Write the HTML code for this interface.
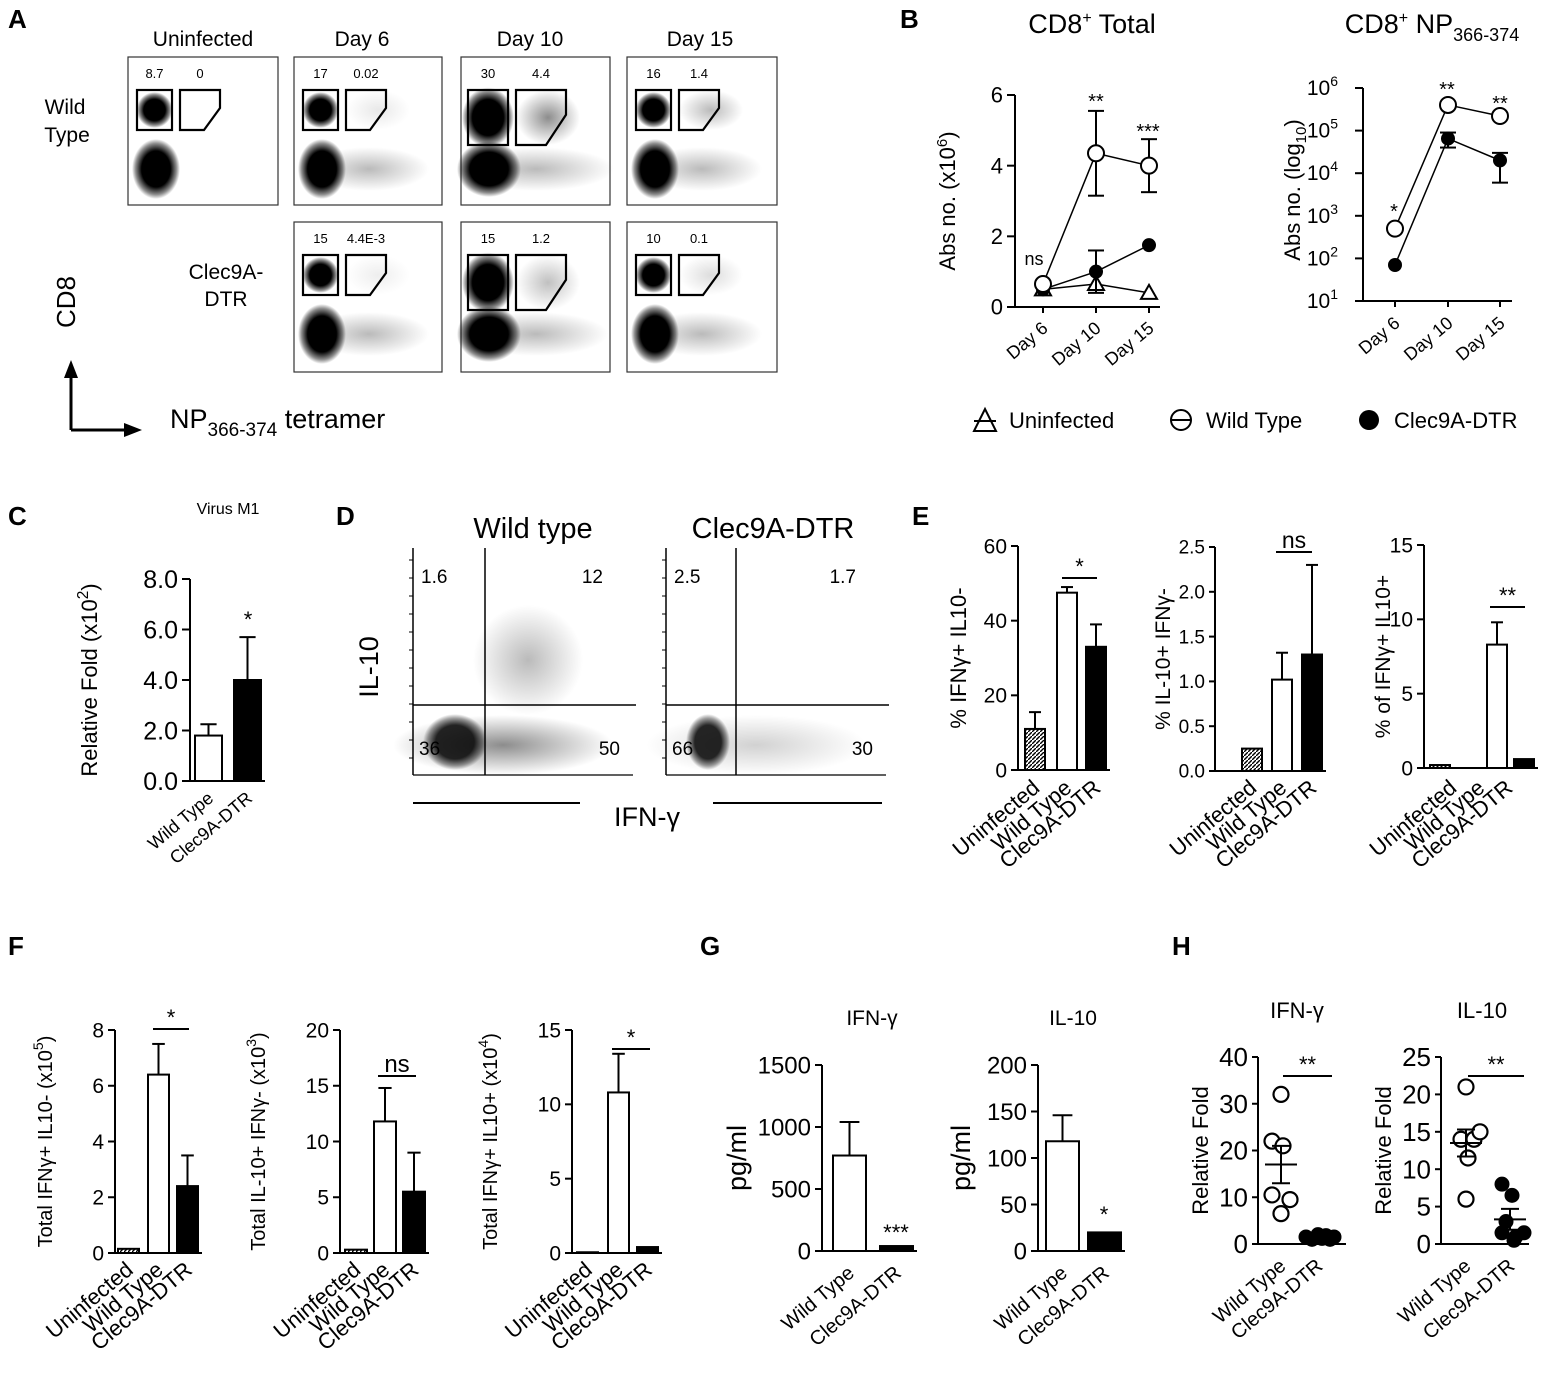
<!DOCTYPE html>
<html><head><meta charset="utf-8">
<style>
html,body{margin:0;padding:0;background:#fff;}
svg{display:block;font-family:"Liberation Sans",Arial,sans-serif;}
</style></head>
<body>
<svg id="fig" width="1547" height="1379" viewBox="0 0 1547 1379" xmlns="http://www.w3.org/2000/svg">
<defs>
<radialGradient id="blob"><stop offset="0" stop-color="#000"/><stop offset="0.6" stop-color="#000"/><stop offset="0.85" stop-color="#000" stop-opacity="0.45"/><stop offset="1" stop-color="#000" stop-opacity="0"/></radialGradient>
<radialGradient id="haze"><stop offset="0" stop-color="#000" stop-opacity="0.45"/><stop offset="1" stop-color="#000" stop-opacity="0"/></radialGradient>
<pattern id="hatch" width="4" height="4" patternUnits="userSpaceOnUse"><rect width="4" height="4" fill="#fff"/><path d="M0 4L4 0" stroke="#000" stroke-width="1.4"/></pattern>
</defs>
<g id="root"></g>
</svg>
<script>
// ---------- data ----------
const bDays = ["Day 6","Day 10","Day 15"];
const bTotalUninf = [0.5,0.65,0.4];
const bTotalWT = [0.65,4.35,4.0];
const bTotalWTerr = [0.1,1.2,0.75];
const bTotalClec = [0.5,1.0,1.75];
const bTotalClecErr = [0.05,0.6,0.1];
const bNpWT = [500,400000,220000];
const bNpClec = [70,65000,20000];
const bNpClecErrHi = [70,90000,30000];
const bNpClecErrLo = [70,40000,6000];
const threeCats = ["Uninfected","Wild Type","Clec9A-DTR"];
const twoCats = ["Wild Type","Clec9A-DTR"];
const cVals = [1.8,4.0];
const cErr = [0.45,1.7];
const e1Vals=[11,47.5,33], e1Err=[4.5,1.5,6];
const e2Vals=[0.25,1.02,1.3], e2Err=[0.04,0.3,1.0];
const e3Vals=[0.2,8.3,0.6], e3Err=[0.05,1.5,0.1];
const f1Vals=[0.15,6.4,2.4], f1Err=[0.03,1.1,1.1];
const f2Vals=[0.3,11.8,5.5], f2Err=[0.1,3.0,3.5];
const f3Vals=[0.05,10.8,0.4], f3Err=[0.02,2.6,0.1];
const g1Vals=[770,40], g1Err=[270,8];
const g2Vals=[118,20], g2Err=[28,3];
const h1WT=[22,32,21,10.5,9.5,6.5], h1Clec=[1.5,1,2,1.2,1.8,1,1.5];
const h1Mean=[17,1.4], h1Sem=[4,0.3];
const h2WT=[14,21,14,15,11.5,6], h2Clec=[8,6.5,3,1.5,1,0.5,1.5];
const h2Mean=[13.5,3.3], h2Sem=[1.8,1.4];

const NS="http://www.w3.org/2000/svg";
const root=document.getElementById('root');
function el(tag,attrs,parent,text){const e=document.createElementNS(NS,tag);for(const k in attrs)e.setAttribute(k,attrs[k]);if(text!==undefined)e.textContent=text;(parent||root).appendChild(e);return e;}
function grp(name){const g=el('g',{});


return g;}
function line(g,x1,y1,x2,y2,w){return el('line',{x1,y1,x2,y2,stroke:'#000','stroke-width':w||2},g);}
function txt(g,x,y,s,size,anchor,extra){const t=el('text',Object.assign({x,y,'font-size':size,'text-anchor':anchor||'middle',fill:'#000'},extra||{}),g,s);return t;}

// panel letters
const letters=[["A",8,28],["B",900,28],["C",8,525],["D",336,525],["E",912,525],["F",8,955],["G",700,955],["H",1172,955]];
letters.forEach(l=>{const t=txt(root,l[1],l[2],l[0],26,'start',{'font-weight':'bold'});

});

// ---------- Panel A: flow plots ----------
const gA=grp('panel-a-flow-plots');
const colHeads=[["Uninfected",203],["Day 6",362],["Day 10",530],["Day 15",700]];
colHeads.forEach(c=>txt(gA,c[1],46,c[0],21));
txt(gA,65,114,"Wild",21);txt(gA,67,142,"Type",21);
txt(gA,226,279,"Clec9A-",21);txt(gA,226,306,"DTR",21);
const plots=[
 {x:128,y:57,w:150,h:148,a:"8.7",b:"0",pos:0,neg:0},
 {x:294,y:57,w:148,h:148,a:"17",b:"0.02",pos:0.2,neg:1},
 {x:461,y:57,w:149,h:148,a:"30",b:"4.4",pos:1,neg:1.3,big:1},
 {x:627,y:57,w:150,h:148,a:"16",b:"1.4",pos:0.6,neg:1},
 {x:294,y:222,w:148,h:150,a:"15",b:"4.4E-3",pos:0.15,neg:1},
 {x:461,y:222,w:149,h:150,a:"15",b:"1.2",pos:0.55,neg:1.2,big:1},
 {x:627,y:222,w:150,h:150,a:"10",b:"0.1",pos:0.3,neg:1}
];
plots.forEach((p,i)=>{
 const g=el('g',{},gA);
 
 
 el('rect',{x:p.x,y:p.y,width:p.w,height:p.h,fill:'#fff',stroke:'#333','stroke-width':1.2},g);
 const bx=p.big?p.x+7:p.x+9, bw=p.big?40:35, bh=p.big?55:40, by=p.y+33;
 if(p.neg)el('ellipse',{cx:p.x+75,cy:p.y+112,rx:60*p.neg,ry:22,fill:'url(#haze)',opacity:0.6},g);
 if(p.pos)el('ellipse',{cx:bx+bw+40,cy:by+bh/2,rx:32,ry:bh/2,fill:'url(#haze)',opacity:p.pos},g);
 el('ellipse',{cx:bx+bw/2,cy:by+bh/2,rx:p.big?26:18,ry:p.big?30:18,fill:'url(#blob)'},g);
 el('ellipse',{cx:p.x+28,cy:p.y+112,rx:p.big?32:24,ry:p.big?28:30,fill:'url(#blob)'},g);
 el('rect',{x:bx,y:by,width:bw,height:bh,fill:'none',stroke:'#000','stroke-width':2.2},g);
 const gx=bx+bw+8, gw=p.big?50:40;
 el('path',{d:`M${gx} ${by} H${gx+gw} V${by+bh*0.45} L${gx+gw*0.6} ${by+bh} H${gx} Z`,fill:'none',stroke:'#000','stroke-width':2.2},g);
 txt(g,bx+bw/2,p.y+21,p.a,13);
 txt(g,gx+gw/2,p.y+21,p.b,13);
});
line(gA,71,430,71,370,3);el('path',{d:'M64 378 L71 360 L78 378 Z',fill:'#000'},gA);
line(gA,71,430,128,430,3);el('path',{d:'M124 423 L142 430 L124 437 Z',fill:'#000'},gA);
txt(gA,75,302,"CD8",26,'middle',{transform:'rotate(-90 75 302)'});
const npl=txt(gA,170,428,"NP",27,'start');
el('tspan',{'font-size':19,dy:8},npl,"366-374");el('tspan',{'font-size':27,dy:-8},npl," tetramer");

// ---------- generic helpers ----------
function yTicks(g,ax,y0,y1,vmax,ticks,labels,size,tickLen){
 line(g,ax,y0,ax,y1,2);
 ticks.forEach((v,i)=>{const y=y0-(y0-y1)*v/vmax;line(g,ax-(tickLen||7),y,ax,y,2);txt(g,ax-(tickLen||7)-4,y+size*0.35,labels[i],size,'end');});
}
function errBar(g,x,yTop,yEnd,cap){line(g,x,yTop,x,yEnd,2);line(g,x-cap,yEnd,x+cap,yEnd,2);}
function catLabels(g,xs,y,cats,size){cats.forEach((c,i)=>txt(g,xs[i]+6,y,c,size,'end',{transform:`rotate(-40 ${xs[i]+6} ${y})`}));}
function sig(g,x1,x2,y,s,size){line(g,x1,y,x2,y,2);txt(g,(x1+x2)/2,y-4,s,size||22);}

function barChart(name,o){
 const g=grp(name);
 const sy=v=>o.y0-(o.y0-o.y1)*v/o.vmax;
 yTicks(g,o.ax,o.y0,o.y1,o.vmax,o.ticks,o.tickLabels,o.tsize,o.tlen);
 line(g,o.ax,o.y0,o.bx[o.bx.length-1]+o.bw+4,o.y0,2);
 o.vals.forEach((v,i)=>{
  const fill=o.fills[i];
  const r=el('rect',{x:o.bx[i],y:sy(v),width:o.bw,height:o.y0-sy(v),fill:fill,stroke:'#000','stroke-width':2},g);
  
  
  if(o.err[i]>o.vmax*0.02)errBar(g,o.bx[i]+o.bw/2,sy(v),sy(v+o.err[i]),o.bw*0.3);
 });
 catLabels(g,o.lx||o.bx.map(x=>x+o.bw/2),o.labY,o.cats,o.lsize);
 const yl=txt(g,o.ylx,(o.y0+o.y1)/2,"",o.ysize,'middle',{transform:`rotate(-90 ${o.ylx} ${(o.y0+o.y1)/2})`});
 o.ylabel(yl);
 return {g,sy};
}
function simpleLabel(s){return t=>{t.textContent=s;};}
function supLabel(a,sup,b){return t=>{el('tspan',{},t,a);el('tspan',{dy:-9,'font-size':'70%'},t,sup);el('tspan',{dy:9},t,b);};}

// ---------- Panel B ----------
(function(){
 const g=grp('panel-b-cd8-total');
 const xs=[1043,1096,1149], y0=307,y1=95;
 const sy=v=>y0-(y0-y1)*v/6;
 const t=txt(g,1092,33,"CD8",27);el('tspan',{dy:-10,'font-size':16},t,"+");el('tspan',{dy:10},t," Total");
 yTicks(g,1015,y0,y1,6,[0,2,4,6],["0","2","4","6"],22,8);
 line(g,1015,y0,1160,y0,2);
 xs.forEach(x=>line(g,x,y0,x,y0+6,2));
 catLabels(g,xs,330,bDays,18);
 const yl=txt(g,955,201,"Abs no. (x10",22,'middle',{transform:'rotate(-90 955 201)'});
 el('tspan',{dy:-8,'font-size':15},yl,"6");el('tspan',{dy:8},yl,")");
 function series(vals,err,marker,name){
  const s=el('g',{},g);
  
  
  el('polyline',{points:vals.map((v,i)=>xs[i]+','+sy(v)).join(' '),fill:'none',stroke:'#000','stroke-width':1.5},s);
  vals.forEach((v,i)=>{
   if(err&&err[i]>0.15){errBar(s,xs[i],sy(v-err[i]),sy(v+err[i]),8);line(s,xs[i]-8,sy(v-err[i]),xs[i]+8,sy(v-err[i]),2);}
   marker(s,xs[i],sy(v));
  });
 }
 const tri=(s,x,y)=>el('path',{d:`M${x} ${y-8} L${x+8} ${y+6} L${x-8} ${y+6} Z`,fill:'#fff',stroke:'#000','stroke-width':2},s);
 const oc=(s,x,y)=>el('circle',{cx:x,cy:y,r:8,fill:'#fff',stroke:'#000','stroke-width':2},s);
 const fc=(s,x,y)=>el('circle',{cx:x,cy:y,r:7,fill:'#000'},s);
 series(bTotalUninf,null,tri,'series-uninfected');
 series(bTotalClec,bTotalClecErr,fc,'series-clec9a-dtr');
 series(bTotalWT,bTotalWTerr,oc,'series-wild-type');
 txt(g,1034,265,"ns",18);txt(g,1096,108,"**",20);txt(g,1148,138,"***",20);

 const g2=grp('panel-b-cd8-np366');
 const xs2=[1395,1448,1500], Y0=301,Y1=88;
 const ly=v=>Y0-(Y0-Y1)*(Math.log10(v)-1)/5;
 const t2=txt(g2,1432,33,"CD8",27);el('tspan',{dy:-10,'font-size':16},t2,"+");el('tspan',{dy:10},t2," NP");el('tspan',{dy:8,'font-size':18},t2,"366-374");
 line(g2,1363,Y0,1363,Y1,2);line(g2,1363,Y0,1512,Y0,2);
 [1,2,3,4,5,6].forEach(e=>{const y=ly(Math.pow(10,e));line(g2,1355,y,1363,y,2);const tt=txt(g2,1338,y+7,"10",21,'end');el('tspan',{dy:-9,'font-size':14},tt,String(e));});
 xs2.forEach(x=>line(g2,x,Y0,x,Y0+6,2));
 catLabels(g2,xs2,325,bDays,18);
 const yl2=txt(g2,1300,190,"Abs no. (log",22,'middle',{transform:'rotate(-90 1300 190)'});
 el('tspan',{dy:6,'font-size':15},yl2,"10");el('tspan',{dy:-6},yl2,")");
 el('polyline',{points:bNpClec.map((v,i)=>xs2[i]+','+ly(v)).join(' '),fill:'none',stroke:'#000','stroke-width':1.5},g2);
 bNpClec.forEach((v,i)=>{if(bNpClecErrHi[i]>v){errBar(g2,xs2[i],ly(v),ly(bNpClecErrHi[i]),8);}if(bNpClecErrLo[i]<v){errBar(g2,xs2[i],ly(v),ly(bNpClecErrLo[i]),8);}el('circle',{cx:xs2[i],cy:ly(v),r:7,fill:'#000'},g2);});
 el('polyline',{points:bNpWT.map((v,i)=>xs2[i]+','+ly(v)).join(' '),fill:'none',stroke:'#000','stroke-width':1.5},g2);
 bNpWT.forEach((v,i)=>el('circle',{cx:xs2[i],cy:ly(v),r:8,fill:'#fff',stroke:'#000','stroke-width':2},g2));
 txt(g2,1394,218,"*",20);txt(g2,1447,96,"**",20);txt(g2,1500,110,"**",20);

 const lg=grp('legend-b');
 el('path',{d:'M985 409 L996 431 L974 431 Z',fill:'#fff',stroke:'#000','stroke-width':2},lg);line(lg,974,421,996,421,2);
 txt(lg,1009,428,"Uninfected",22,'start');
 el('circle',{cx:1181,cy:420,r:10,fill:'#fff',stroke:'#000','stroke-width':2},lg);line(lg,1171,420,1191,420,2);
 txt(lg,1206,428,"Wild Type",22,'start');
 el('circle',{cx:1369,cy:420,r:10,fill:'#000'},lg);
 txt(lg,1394,428,"Clec9A-DTR",22,'start');
})();

// ---------- Panel C ----------
(function(){
 const r=barChart('panel-c-virus-m1',{ax:190,y0:781,y1:579,vmax:8,ticks:[0,2,4,6,8],tickLabels:["0.0","2.0","4.0","6.0","8.0"],tsize:25,tlen:8,
  bx:[195,234],bw:27,vals:cVals,err:cErr,fills:['#fff','#000'],cats:twoCats,labY:800,lsize:18,ylx:97,ysize:22,
  ylabel:supLabel("Relative Fold (x10","2",")")});
 txt(r.g,228,514,"Virus M1",16);txt(r.g,248,627,"*",22);
})();

// ---------- Panel D ----------
(function(){
 const g=grp('panel-d-flow-quadrants');
 txt(g,533,538,"Wild type",29);txt(g,773,538,"Clec9A-DTR",29);
 const ps=[{x:413,qx:485,a:"1.6",b:"12",c:"36",d:"50",dense:1},{x:666,qx:736,a:"2.5",b:"1.7",c:"66",d:"30",dense:0.4}];
 ps.forEach((p,i)=>{
  const s=el('g',{},g);
  
  
  line(s,p.x,548,p.x,775,1.5);line(s,p.x,775,p.x+220,775,1.2);
  for(let k=0;k<12;k++){const y=560+k*18;line(s,p.x-4,y,p.x,y,1);}
  el('ellipse',{cx:p.x+90,cy:745,rx:110,ry:30,fill:'url(#haze)',opacity:p.dense},s);
  if(p.dense>0.5)el('ellipse',{cx:p.x+115,cy:660,rx:55,ry:55,fill:'url(#haze)',opacity:0.6},s);
  el('ellipse',{cx:p.x+42,cy:742,rx:p.dense>0.5?32:22,ry:28,fill:'url(#blob)',opacity:0.85},s);
  line(s,p.qx,548,p.qx,775,1.5);line(s,p.x,705,p.x+223,705,1.5);
  txt(s,p.x+8,583,p.a,19,'start');txt(s,p.x+190,583,p.b,19,'end');
  txt(s,p.x+6,755,p.c,19,'start');txt(s,p.x+207,755,p.d,19,'end');
 });
 line(g,413,803,580,803,2);line(g,713,803,882,803,2);
 txt(g,647,826,"IFN-γ",27);
 txt(g,378,667,"IL-10",27,'middle',{transform:'rotate(-90 378 667)'});
})();

// ---------- Panel E ----------
(function(){
 const fills=['url(#hatch)','#fff','#000'];
 const a=barChart('panel-e-ifng-il10neg',{ax:1018,y0:770,y1:546,vmax:60,ticks:[0,20,40,60],tickLabels:["0","20","40","60"],tsize:21,tlen:7,
  bx:[1025,1057,1086],bw:20,vals:e1Vals,err:e1Err,fills,cats:threeCats,labY:790,lsize:22,ylx:966,ysize:22,ylabel:simpleLabel("% IFNγ+ IL10-")});
 sig(a.g,1062,1097,578,"*");
 const b=barChart('panel-e-il10-ifngneg',{ax:1215,y0:771,y1:547,vmax:2.5,ticks:[0,0.5,1,1.5,2,2.5],tickLabels:["0.0","0.5","1.0","1.5","2.0","2.5"],tsize:19,tlen:6,
  bx:[1242,1272,1302],bw:20,vals:e2Vals,err:e2Err,fills,cats:threeCats,labY:790,lsize:22,ylx:1170,ysize:21,ylabel:simpleLabel("% IL-10+ IFNγ-")});
 sig(b.g,1276,1312,552,"ns",23);
 const c=barChart('panel-e-ifng-il10pos',{ax:1424,y0:768,y1:545,vmax:15,ticks:[0,5,10,15],tickLabels:["0","5","10","15"],tsize:21,tlen:7,
  bx:[1430,1487,1514],bw:20,vals:e3Vals,err:e3Err,fills,cats:threeCats,labY:790,lsize:22,ylx:1390,ysize:21,ylabel:simpleLabel("% of IFNγ+ IL10+"),
  lx:[1452,1480,1508]});
 sig(c.g,1490,1525,607,"**");
})();

// ---------- Panel F ----------
(function(){
 const fills=['url(#hatch)','#fff','#000'];
 const a=barChart('panel-f-total-ifng',{ax:115,y0:1253,y1:1030,vmax:8,ticks:[0,2,4,6,8],tickLabels:["0","2","4","6","8"],tsize:21,tlen:7,
  bx:[118,148,177],bw:21,vals:f1Vals,err:f1Err,fills,cats:threeCats,labY:1272,lsize:22,ylx:52,ysize:20,ylabel:supLabel("Total IFNγ+ IL10- (x10","5",")")});
 sig(a.g,153,189,1029,"*");
 const b=barChart('panel-f-total-il10',{ax:340,y0:1253,y1:1030,vmax:20,ticks:[0,5,10,15,20],tickLabels:["0","5","10","15","20"],tsize:21,tlen:7,
  bx:[345,374,403],bw:22,vals:f2Vals,err:f2Err,fills,cats:threeCats,labY:1272,lsize:22,ylx:265,ysize:20,ylabel:supLabel("Total IL-10+ IFNγ- (x10","3",")")});
 sig(b.g,378,416,1076,"ns",24);
 const c=barChart('panel-f-total-double',{ax:572,y0:1253,y1:1030,vmax:15,ticks:[0,5,10,15],tickLabels:["0","5","10","15"],tsize:21,tlen:7,
  bx:[577,608,637],bw:21,vals:f3Vals,err:f3Err,fills,cats:threeCats,labY:1272,lsize:22,ylx:497,ysize:20,ylabel:supLabel("Total IFNγ+ IL10+ (x10","4",")")});
 sig(c.g,612,650,1049,"*");
})();

// ---------- Panel G ----------
(function(){
 const fills=['#fff','#000'];
 const a=barChart('panel-g-ifng',{ax:822,y0:1251,y1:1065,vmax:1500,ticks:[0,500,1000,1500],tickLabels:["0","500","1000","1500"],tsize:24,tlen:7,
  bx:[833,880],bw:33,vals:g1Vals,err:g1Err,fills,cats:twoCats,labY:1275,lsize:20,ylx:746,ysize:27,ylabel:simpleLabel("pg/ml")});
 txt(a.g,872,1025,"IFN-γ",21);txt(a.g,896,1240,"***",22);
 const b=barChart('panel-g-il10',{ax:1038,y0:1251,y1:1065,vmax:200,ticks:[0,50,100,150,200],tickLabels:["0","50","100","150","200"],tsize:24,tlen:7,
  bx:[1046,1088],bw:33,vals:g2Vals,err:g2Err,fills,cats:twoCats,labY:1275,lsize:20,ylx:970,ysize:27,ylabel:simpleLabel("pg/ml")});
 txt(b.g,1073,1025,"IL-10",21);txt(b.g,1104,1222,"*",22);
})();

// ---------- Panel H ----------
function dotChart(name,o){
 const g=grp(name);
 const sy=v=>o.y0-(o.y0-o.y1)*v/o.vmax;
 yTicks(g,o.ax,o.y0,o.y1,o.vmax,o.ticks,o.ticks.map(String),26,6);
 line(g,o.ax,o.y0,o.ax+88,o.y0,2);
 o.wt.forEach((v,i)=>el('circle',{cx:o.xs[0]+o.jit[i],cy:sy(v),r:7.5,fill:'#fff',stroke:'#000','stroke-width':2.2},g));
 o.clec.forEach((v,i)=>el('circle',{cx:o.xs[1]+o.jit2[i],cy:sy(v),r:7.5,fill:'#000'},g));
 [0,1].forEach(k=>{line(g,o.xs[k]-16,sy(o.mean[k]),o.xs[k]+16,sy(o.mean[k]),2);line(g,o.xs[k],sy(o.mean[k]-o.sem[k]),o.xs[k],sy(o.mean[k]+o.sem[k]),2);
  line(g,o.xs[k]-9,sy(o.mean[k]+o.sem[k]),o.xs[k]+9,sy(o.mean[k]+o.sem[k]),2);line(g,o.xs[k]-9,sy(o.mean[k]-o.sem[k]),o.xs[k]+9,sy(o.mean[k]-o.sem[k]),2);});
 catLabels(g,o.xs,1268,twoCats,20);
 txt(g,o.ax-50,(o.y0+o.y1)/2,"Relative Fold",22,'middle',{transform:`rotate(-90 ${o.ax-50} ${(o.y0+o.y1)/2})`});
 txt(g,o.title[1],1018,o.title[0],22);
 sig(g,o.xs[0]+2,o.xs[1]+14,o.y1+19,"**");
}
dotChart('panel-h-ifng',{ax:1258,y0:1244,y1:1057,vmax:40,ticks:[0,10,20,30,40],xs:[1281,1318],wt:h1WT,clec:h1Clec,mean:h1Mean,sem:h1Sem,
 jit:[-9,0,2,-9,9,0],jit2:[-12,-6,0,4,8,12,16],title:["IFN-γ",1297]});
dotChart('panel-h-il10',{ax:1441,y0:1244,y1:1057,vmax:25,ticks:[0,5,10,15,20,25],xs:[1466,1510],wt:h2WT,clec:h2Clec,mean:h2Mean,sem:h2Sem,
 jit:[-5,0,8,14,2,0],jit2:[-8,2,-4,-8,6,4,14],title:["IL-10",1482]});
</script>
</body></html>
